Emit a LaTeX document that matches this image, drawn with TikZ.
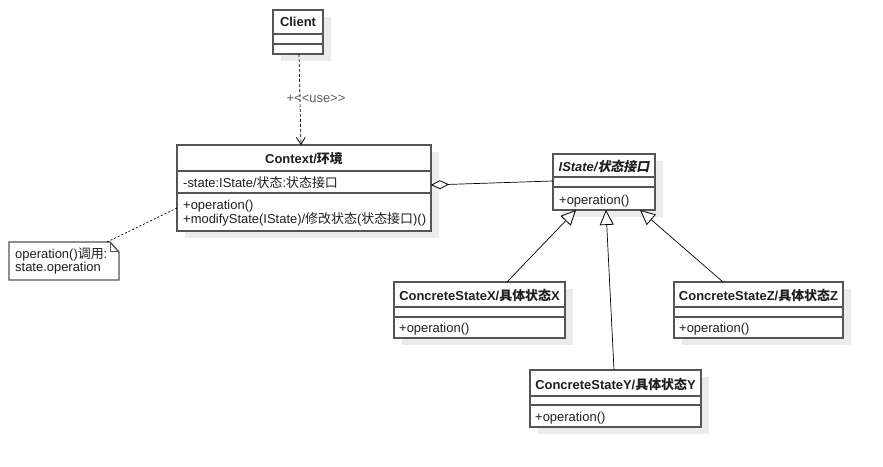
\documentclass[tikz,border=0pt]{standalone}
\usepackage{fontspec}
\setmainfont{Liberation Sans}
\newfontfamily\cjkfont{Noto Sans CJK SC}
\newfontfamily\cjkitfont[FakeSlant=0.2]{Noto Sans CJK SC}
\newcommand\zh[1]{{\cjkfont #1}}
\newcommand\zhit[1]{{\cjkitfont #1}}
\usetikzlibrary{arrows.meta,calc}
\definecolor{boxline}{HTML}{555555}
\definecolor{shadowc}{HTML}{EBEBEB}
\definecolor{txt}{HTML}{1E1E1E}
\definecolor{lbl}{HTML}{5E5E5E}
\tikzset{
  classrect/.style={draw=boxline, line width=1.4bp, fill=white, inner sep=0pt, outer sep=0pt},
  sepline/.style={draw=boxline, line width=1.4bp},
  titletext/.style={font=\fontsize{13}{15}\selectfont\bfseries, text=txt, anchor=base, inner sep=0pt},
  membertext/.style={font=\fontsize{13}{15}\selectfont, text=txt, anchor=base west, inner sep=0pt},
  conn/.style={draw=black, line width=0.7bp},
  gen/.style={conn, -{Triangle[open, length=15bp, width=14bp, fill=white, line width=0.8bp]}},
  agg/.style={conn, {Diamond[open, length=18bp, width=9bp, fill=white, line width=0.8bp]}-},
  dep/.style={conn, dash pattern=on 3bp off 2bp, -{Straight Barb[length=7bp, width=9bp, line width=0.8bp]}},
  notelink/.style={conn, dash pattern=on 2bp off 2bp},
  lbltext/.style={font=\fontsize{13}{15}\selectfont, text=lbl, anchor=base, inner sep=0pt},
}
\newcommand\classbox[5]{%
  \fill[shadowc] ({#2+8},{#3+7}) rectangle ({#4+8},{#5+7});
  \node[classrect, minimum width={(#4-#2)*1bp}, minimum height={(#5-#3)*1bp}, anchor=north west] (#1) at (#2,#3) {};}
\newcommand\sepl[3]{\draw[sepline] (#1,#3) -- (#2,#3);}
\begin{document}
\begin{tikzpicture}[x=1bp, y=-1bp]
\useasboundingbox (0,0) rectangle (883,467);
\fill[white] (0,0) rectangle (883,467);

% Client
\classbox{client}{273}{10}{323}{54}
\sepl{273}{323}{34}\sepl{273}{323}{44}
\node[titletext] (clientT) at (298,27) {Client};

% Context
\classbox{ctx}{177}{145}{431}{231}
\sepl{177}{431}{171}\sepl{177}{431}{193}
\node[titletext] (ctxT) at (304,164) {Context/\zh{环境}};
\node[membertext] (ctxA) at (183,188) {-state:IState/\zh{状态}:\zh{状态接口}};
\node[membertext] (ctxO1) at (183,210) {+operation()};
\node[membertext] (ctxO2) at (183,224) {+modifyState(IState)/\zh{修改状态}(\zh{状态接口})()};

% IState
\classbox{istate}{553}{154}{655}{210}
\sepl{553}{655}{177}\sepl{553}{655}{187}
\node[titletext] (istateT) at (604,172) {\itshape IState/\zhit{状态接口}};
\node[membertext] (istateO) at (559,205) {+operation()};

% ConcreteStateX
\classbox{csx}{394}{282}{565}{338}
\sepl{394}{565}{307}\sepl{394}{565}{317}
\node[titletext] (csxT) at (479.5,301) {ConcreteStateX/\zh{具体状态}X};
\node[membertext] (csxO) at (399,333) {+operation()};

% ConcreteStateZ
\classbox{csz}{674}{282}{843}{338}
\sepl{674}{843}{307}\sepl{674}{843}{317}
\node[titletext] (cszT) at (758.5,301) {ConcreteStateZ/\zh{具体状态}Z};
\node[membertext] (cszO) at (679,333) {+operation()};

% ConcreteStateY
\classbox{csy}{530}{370}{701}{427}
\sepl{530}{701}{396}\sepl{530}{701}{405}
\node[titletext] (csyT) at (615.5,389) {ConcreteStateY/\zh{具体状态}Y};
\node[membertext] (csyO) at (535,421) {+operation()};

% Note
\node[inner sep=0pt, outer sep=0pt, minimum width=110bp, minimum height=38bp, anchor=north west] (note) at (9,242) {};
\draw[draw=boxline, line width=1.4bp, fill=white]
  (note.north west) -- ($(note.north east)+(-9,0)$) -- ($(note.north east)+(0,10)$) -- (note.south east) -- (note.south west) -- cycle;
\draw[draw=boxline, line width=1bp] ($(note.north east)+(-9,0)$) -- ($(note.north east)+(-9,10)$) -- ($(note.north east)+(0,10)$);
\node[membertext] (noteT1) at (15,259) {operation()\zh{调用}:};
\node[membertext] (noteT2) at (15,272) {state.operation};

% Connectors
\draw[dep] ($(client.south)+(1,0)$) -- ($(ctx.north)+(-3,0)$);
\node[lbltext] (uselbl) at (316,103) {+{<}{<}use{>}{>}};
\draw[agg] ($(ctx.east)+(0,-3)$) -- ($(istate.west)+(0,-1)$);
\draw[gen] ($(csx.north west)+(113,0)$) -- ($(istate.south west)+(23,0)$);
\draw[gen] ($(csy.north west)+(84,0)$) -- ($(istate.south west)+(53,0)$);
\draw[gen] ($(csz.north west)+(49,0)$) -- ($(istate.south west)+(87,0)$);
\draw[notelink] ($(note.north east)+(-12,0)$) -- ($(ctx.west)+(0,20)$);
\end{tikzpicture}
\end{document}
